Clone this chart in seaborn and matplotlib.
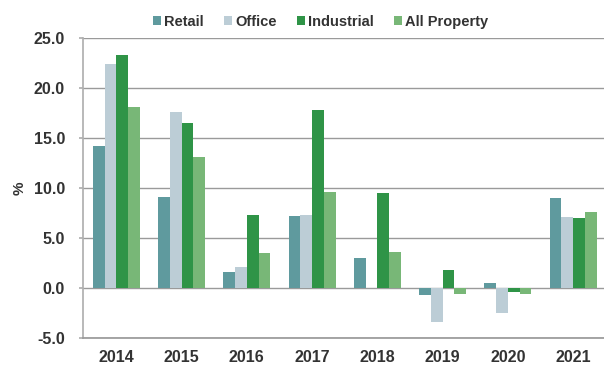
import matplotlib
matplotlib.use("Agg")
import matplotlib.pyplot as plt
import seaborn as sns
import pandas as pd

# Annual total returns by sector (%)
years = ["2014", "2015", "2016", "2017", "2018", "2019", "2020", "2021"]
retail = [14.2, 9.1, 1.6, 7.2, 3.0, -0.7, 0.5, 9.0]
office = [22.4, 17.6, 2.1, 7.3, 0.0, -3.4, -2.5, 7.1]
industrial = [23.3, 16.5, 7.3, 17.8, 9.5, 1.8, -0.4, 7.0]
all_property = [18.1, 13.1, 3.5, 9.6, 3.6, -0.6, -0.6, 7.6]

series = ["Retail", "Office", "Industrial", "All Property"]
colors = ["#5f9a9e", "#bccdd6", "#2f9447", "#78b777"]
yticks = [-5.0, 0.0, 5.0, 10.0, 15.0, 20.0, 25.0]

df = pd.DataFrame({
    "Year": years * 4,
    "Sector": [s for s in series for _ in years],
    "Return": retail + office + industrial + all_property,
})

sns.set_theme(style="white")
plt.rcParams["font.family"] = ["Liberation Sans", "DejaVu Sans"]

fig = plt.figure(figsize=(6.04, 3.67), dpi=100)
ax = fig.add_axes([83 / 604, 29 / 367, 1 - 83 / 604 + 0.002, 300 / 367])

sns.barplot(data=df, x="Year", y="Return", hue="Sector", hue_order=series,
            palette=colors, width=0.72, saturation=1, ax=ax, legend=True,
            edgecolor="none", linewidth=0)

ax.set_ylim(-5, 25)
ax.set_xlim(-0.51, 7.49)
ax.set_yticks(yticks)
ax.set_yticklabels([f"{v:.1f}" for v in yticks], fontsize=11.5,
                   fontweight="bold", color="#333333")
ax.set_xticklabels(years, fontsize=11.5, fontweight="bold", color="#333333")
ax.set_xlabel("")
ax.set_ylabel("%", fontsize=11, fontweight="bold", color="#333333", labelpad=5)

ax.yaxis.grid(True, color="#9a9a9a", linewidth=1.0)
ax.set_axisbelow(True)
for side in ["top", "right"]:
    ax.spines[side].set_visible(False)
ax.spines["bottom"].set_color("#9a9a9a")
ax.spines["left"].set_color("#b0b0b0")
ax.tick_params(axis="y", which="major", left=True, length=3, color="#b0b0b0",
               pad=10)
ax.tick_params(axis="x", bottom=False, pad=3)

leg = ax.legend(loc="lower center", bbox_to_anchor=(0.455, 1.0), ncol=4,
                frameon=False, fontsize=10.5, handlelength=0.55,
                handleheight=0.55, handletextpad=0.2, columnspacing=1.4,
                borderpad=0.15)
for t in leg.get_texts():
    t.set_fontweight("bold")
    t.set_color("#333333")

fig.savefig("out.png", dpi=100)
